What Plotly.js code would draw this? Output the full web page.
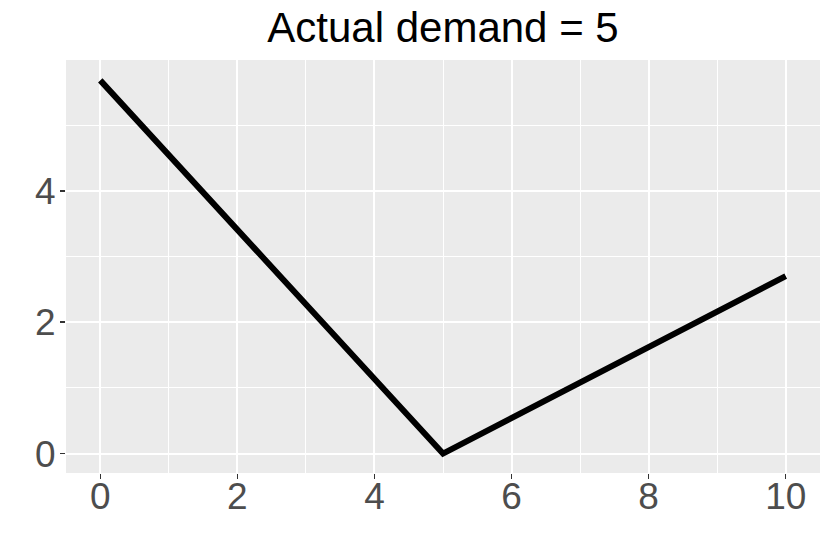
<!DOCTYPE html>
<html>
<head>
<meta charset="utf-8">
<script src="https://cdn.plot.ly/plotly-3.0.1.min.js"></script>
<style>
  html, body { margin: 0; padding: 0; background: #fff; }
  #chart { width: 830px; height: 554px; }
</style>
</head>
<body>
<div id="chart"></div>
<script>
// Loss vs. order quantity, actual demand = 5
const orderQty = [0, 5, 10];
const loss = [5.68, 0, 2.7];
const xTicks = [0, 2, 4, 6, 8, 10];
const yTicks = [0, 2, 4];

const FONT = "Liberation Sans, Arial, sans-serif";

const axisCommon = {
  showgrid: true,
  gridcolor: "#ffffff",
  gridwidth: 2,
  zeroline: false,
  showline: false,
  ticks: "outside",
  ticklen: 5,
  tickwidth: 1.5,
  tickcolor: "#333333",
  tickfont: { family: FONT, size: 37, color: "#4d4d4d" },
  minor: { dtick: 1, showgrid: true, gridcolor: "#ffffff", gridwidth: 1 },
};

const trace = {
  x: orderQty, y: loss,
  mode: "lines",
  line: { color: "#000000", width: 6 },
  hoverinfo: "skip",
};

const layout = {
  width: 830, height: 554,
  margin: { l: 66, r: 10, t: 60, b: 81 },
  paper_bgcolor: "#ffffff",
  plot_bgcolor: "#ebebeb",
  showlegend: false,
  title: {
    text: "Actual demand = 5",
    font: { family: FONT, size: 42, color: "#000000" },
    x: 0.5, xref: "paper", y: 0.95, yref: "container", yanchor: "middle",
  },
  xaxis: Object.assign({}, axisCommon, {
    range: [-0.5, 10.5], tickvals: xTicks, ticktext: xTicks.map(String),
    ticklabelstandoff: -14,
  }),
  yaxis: Object.assign({}, axisCommon, {
    range: [-0.295, 5.99], tickvals: yTicks, ticktext: yTicks.map(String),
    ticklabelstandoff: -3,
  }),
};

Plotly.newPlot("chart", [trace], layout, { staticPlot: true, displayModeBar: false });
</script>
</body>
</html>
